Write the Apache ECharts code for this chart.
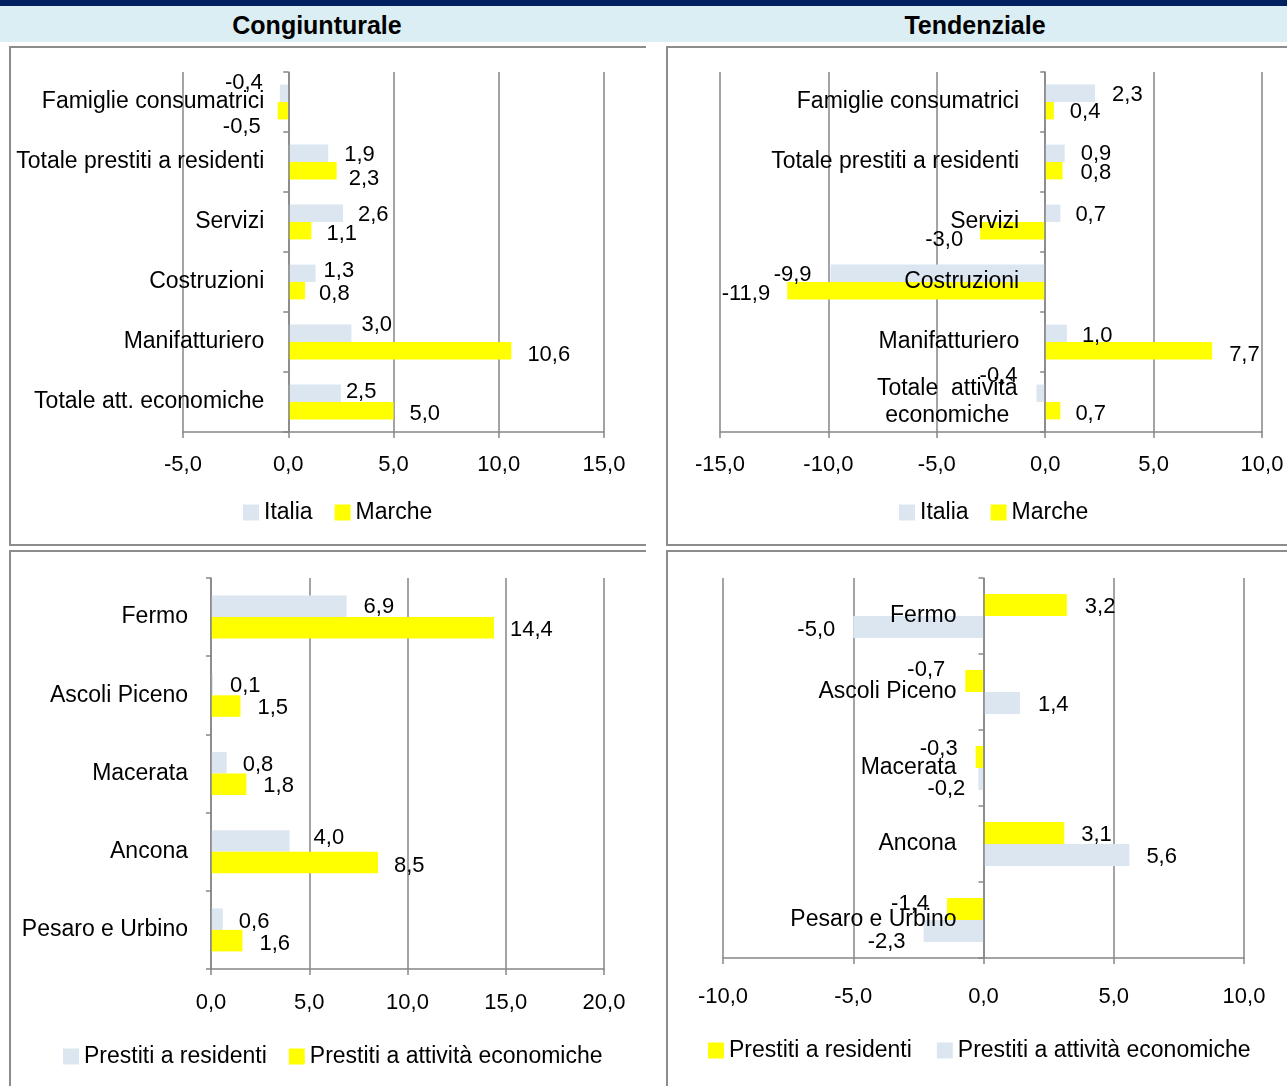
<!DOCTYPE html>
<html><head><meta charset="utf-8">
<script src="https://cdn.jsdelivr.net/npm/echarts@6/dist/echarts.min.js"></script>
<style>
html,body{margin:0;padding:0;width:1287px;height:1086px;overflow:hidden;background:#fff;position:relative;}
.navy{position:absolute;left:0;top:0;width:1287px;height:6px;background:#002060}
.band{position:absolute;left:0;top:6px;width:1287px;height:36px;background:#DAEEF3}
.title{position:absolute;top:6px;height:36px;line-height:38px;font-weight:bold;font-size:25px;text-align:center;font-family:'Liberation Sans',Arial,sans-serif;color:#000}
.clip{position:absolute;overflow:hidden}
.frame{position:absolute;border:2px solid #8c8c8c;box-sizing:border-box}
.chart{position:absolute}
</style></head>
<body>
<div class="navy"></div>
<div class="band"></div>
<div class="title" style="left:217px;width:200px">Congiunturale</div>
<div class="title" style="left:875px;width:200px">Tendenziale</div>

<div class="clip" style="left:0;top:0;width:646px;height:548px">
  <div class="frame" style="left:9px;top:46px;width:700px;height:500px"></div>
  <div class="chart" id="tl" style="left:0;top:46px;width:646px;height:500px"></div>
</div>
<div class="frame" style="left:666px;top:46px;width:700px;height:500px"></div>
<div class="chart" id="tr" style="left:660px;top:46px;width:627px;height:500px"></div>

<div class="clip" style="left:0;top:548px;width:646px;height:538px">
  <div class="frame" style="left:9px;top:2px;width:700px;height:600px"></div>
  <div class="chart" id="bl" style="left:0;top:3px;width:646px;height:535px"></div>
</div>
<div class="frame" style="left:666px;top:550px;width:700px;height:600px"></div>
<div class="chart" id="br" style="left:660px;top:551px;width:627px;height:535px"></div>

<script>
// ---------- DATA ----------
const sectorCats = ['Famiglie consumatrici', 'Totale prestiti a residenti', 'Servizi', 'Costruzioni', 'Manifatturiero', 'Totale att. economiche'];
const sectorCatsTend = ['Famiglie consumatrici', 'Totale prestiti a residenti', 'Servizi', 'Costruzioni', 'Manifatturiero', 'Totale  attività\neconomiche'];
const congItalia = [-0.4, 1.9, 2.6, 1.3, 3.0, 2.5];
const congMarche = [-0.5, 2.3, 1.1, 0.8, 10.6, 5.0];
const tendItalia = [2.3, 0.9, 0.7, -9.9, 1.0, -0.4];
const tendMarche = [0.4, 0.8, -3.0, -11.9, 7.7, 0.7];

const provinces = ['Fermo', 'Ascoli Piceno', 'Macerata', 'Ancona', 'Pesaro e Urbino'];
const congResidenti = [6.9, 0.1, 0.8, 4.0, 0.6];
const congAttivita = [14.4, 1.5, 1.8, 8.5, 1.6];
const tendResidenti = [3.2, -0.7, -0.3, 3.1, -1.4];
const tendAttivita = [-5.0, 1.4, -0.2, 5.6, -2.3];

// ---------- STYLE ----------
const FONT = "'Liberation Sans',Arial,sans-serif";
const FS = 22;      // numbers
const FS_TXT = 23;  // category and legend text
const BLUE = '#DCE6F1';
const YELLOW = '#FFFF00';
const GRAYL = '#868686';
// label placement tweaks [gap, dy] (matching the hand-moved labels of the original)
const nudge = {
  tlA: [[17,-10],[16,2],[15,2],[8,-2],[10,-8],[5,-1]],
  tlB: [[17,16],[12,8],[15,3],[14,3],[16,4],[16,3]],
  trA: [[17,2],[16,1],[15,2],[19,2],[15,3],[19,-17]],
  trB: [[16,1],[18,2],[17,9],[17,3],[17,4],[15,3]],
  blA: [[17,1],[17,1],[16,2],[24,-3],[16,3]],
  blB: [[16,2],[17,2],[17,2],[16,3],[17,3]],
  brA: [[18,2],[20,-11],[18,-8],[17,2],[18,-5]],
  brB: [[18,3],[18,2],[13,10],[17,2],[18,11]]
};

const fmt = v => v.toFixed(1).replace('.', ',');

function series(name, values, color, nud, gap) {
  return {
    name, type: 'bar', barGap: '0%', barCategoryGap: gap,
    itemStyle: { color },
    z: 2,
    data: values.map((v, i) => ({
      value: v,
      label: {
        position: v >= 0 ? 'right' : 'left',
        distance: nud[i][0],
        offset: [0, nud[i][1]]
      }
    })),
    label: {
      show: true, color: '#000', fontSize: FS, fontFamily: FONT,
      formatter: p => fmt(p.value)
    }
  };
}

function panel(id, cfg) {
  const chart = echarts.init(document.getElementById(id), null, { renderer: 'canvas' });
  // category labels sit next to the zero line (the y axis crosses at 0)
  const zeroShift = (0 - cfg.min) / (cfg.max - cfg.min) * cfg.grid[2];
  const cats = cfg.cats.map(c => c.indexOf('\n') >= 0
    ? { value: c, textStyle: { align: 'center', padding: [0, 144, 0, 0] } }
    : c);
  chart.setOption({
    animation: false,
    textStyle: { fontFamily: FONT },
    grid: { left: cfg.grid[0], top: cfg.grid[1], width: cfg.grid[2], height: cfg.grid[3], containLabel: false, outerBoundsMode: 'none' },
    legend: {
      left: cfg.legend[0], top: cfg.legend[1],
      itemWidth: 16, itemHeight: 16, itemGap: cfg.legendGap || 22, icon: 'rect',
      textStyle: { fontSize: FS_TXT, color: '#000', fontFamily: FONT },
      data: cfg.legendNames
    },
    xAxis: {
      type: 'value', min: cfg.min, max: cfg.max, interval: 5,
      axisLine: { show: true, onZero: false, lineStyle: { color: GRAYL, width: 1.5 } },
      axisTick: { show: true, length: 6, lineStyle: { color: GRAYL, width: 1.5 } },
      splitLine: { show: true, lineStyle: { color: GRAYL, width: 1.5 } },
      axisLabel: { color: '#000', fontSize: FS, fontFamily: FONT, margin: cfg.xMargin, formatter: fmt }
    },
    yAxis: {
      type: 'category', inverse: true, data: cats, z: 5,
      axisLine: { show: true, onZero: true, lineStyle: { color: GRAYL, width: 1.5 } },
      axisTick: { show: true, length: 5, lineStyle: { color: GRAYL, width: 1.5 } },
      axisLabel: { color: '#000', fontSize: FS_TXT, fontFamily: FONT, margin: cfg.margin - zeroShift, lineHeight: 27 }
    },
    series: cfg.series
  });
}

panel('tl', {
  grid: [183, 26, 421, 360], legend: [238, 450], min: -5, max: 15, margin: 24, xMargin: 22,
  cats: sectorCats, legendNames: ['Italia', 'Marche'],
  series: [series('Italia', congItalia, BLUE, nudge.tlA, '42%'), series('Marche', congMarche, YELLOW, nudge.tlB, '42%')]
});
panel('tr', {
  grid: [60, 26, 542, 360], legend: [234, 450], min: -15, max: 10, margin: 26, xMargin: 22,
  cats: sectorCatsTend, legendNames: ['Italia', 'Marche'],
  series: [series('Italia', tendItalia, BLUE, nudge.trA, '42%'), series('Marche', tendMarche, YELLOW, nudge.trB, '42%')]
});
panel('bl', {
  grid: [211, 27, 393, 391], legend: [58, 489], min: 0, max: 20, margin: 23, xMargin: 23,
  cats: provinces, legendNames: ['Prestiti a residenti', 'Prestiti a attività economiche'],
  series: [series('Prestiti a residenti', congResidenti, BLUE, nudge.blA, '45%'), series('Prestiti a attività economiche', congAttivita, YELLOW, nudge.blB, '45%')]
});
panel('br', {
  grid: [63, 27, 521, 380], legend: [43, 483], legendGap: 25, min: -10, max: 10, margin: 27, xMargin: 28,
  cats: provinces, legendNames: ['Prestiti a residenti', 'Prestiti a attività economiche'],
  series: [series('Prestiti a residenti', tendResidenti, YELLOW, nudge.brA, '42%'), series('Prestiti a attività economiche', tendAttivita, BLUE, nudge.brB, '42%')]
});
</script>
</body></html>
